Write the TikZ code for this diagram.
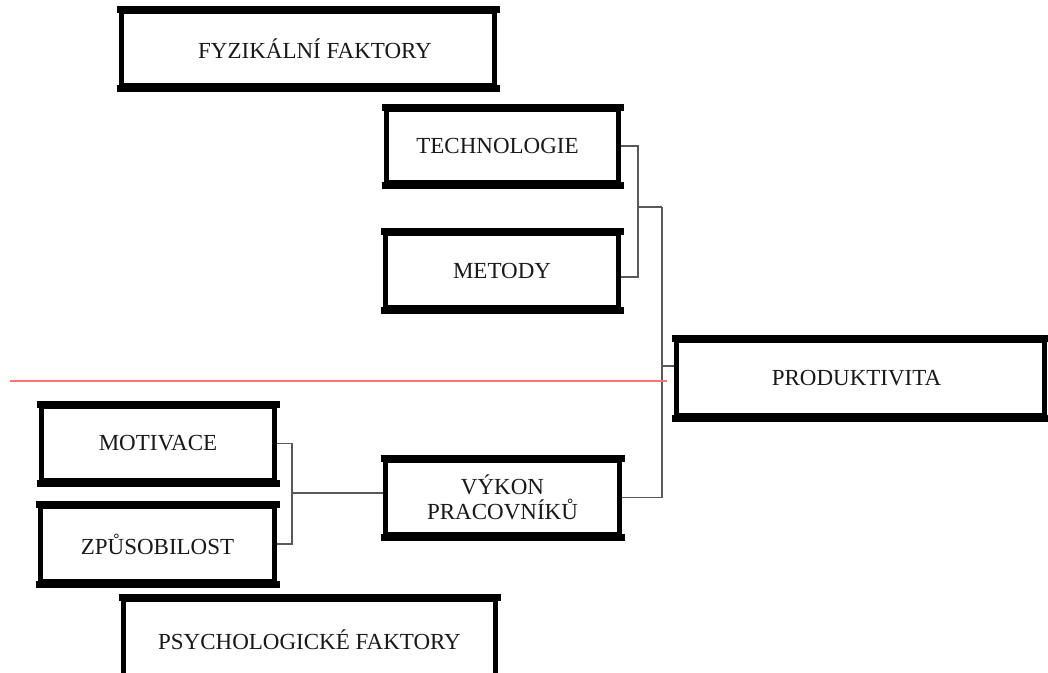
\documentclass[tikz,border=0pt]{standalone}
\usepackage{fontspec}
\setmainfont{Liberation Serif}
\usetikzlibrary{backgrounds}

\tikzset{
  box/.style={draw=black, line width=5pt, inner sep=0pt, align=center,
    text=black!90, font=\fontsize{23}{25}\selectfont},
  boxedge/.style={draw=black, line width=7pt},
  conn/.style={draw=black!65, line width=1.4pt},
  divider/.style={draw=red!55, line width=1.5pt},
}

\begin{document}
\begin{tikzpicture}[x=1pt, y=-1pt]
  \useasboundingbox (0,0) rectangle (1048,672);
  \clip (0,0) rectangle (1048,672);

  % boxes
  \node[box, minimum width=373pt, minimum height=74pt] (fyz) at (308,48.5) {\hspace*{14pt}FYZIKÁLNÍ FAKTORY};
  \node[box, minimum width=232pt, minimum height=73pt] (tech) at (502.5,146) {TECHNOLOGIE\hspace*{10pt}};
  \node[box, minimum width=233pt, minimum height=74pt] (met) at (502,270.5) {METODY};
  \node[box, minimum width=368pt, minimum height=75pt] (prod) at (860.5,378) {PRODUKTIVITA\hspace*{8pt}};
  \node[box, minimum width=233pt, minimum height=74pt] (mot) at (158,443.5) {MOTIVACE};
  \node[box, minimum width=234pt, minimum height=75pt] (zpu) at (157.5,544) {ZPŮSOBILOST};
  \node[box, minimum width=234pt, minimum height=74pt] (vyk) at (502.5,497.5) {VÝKON\\PRACOVNÍKŮ};
  \node[box, minimum width=372pt, minimum height=80pt] (psy) at (309.5,639.5) {PSYCHOLOGICKÉ FAKTORY};

  % heavier top and bottom edges
  \foreach \n in {fyz,tech,met,prod,mot,zpu,vyk,psy} {
    \draw[boxedge] ([xshift=-2.5pt]\n.north west) -- ([xshift=2.5pt]\n.north east);
    \draw[boxedge] ([xshift=-2.5pt]\n.south west) -- ([xshift=2.5pt]\n.south east);
  }

  % junction points of the connector tree
  \coordinate (busA) at (638,207);
  \coordinate (busB) at (662,207);
  \coordinate (tap)  at (662,366);
  \coordinate (busC) at (292,493);

  % dividing line
  \coordinate (divL) at (10,381);
  \coordinate (divR) at (667,381);
  \draw[divider] (divL) -- (divR);

  \begin{scope}[on background layer]
    \fill[white] (0,0) rectangle (1048,672);
    \draw[conn] (tech.east) -| (busA) |- ([yshift=-6.5pt]met.east);
    \draw[conn] (busA) -- (busB);
    \draw[conn] (busB) |- (vyk.east);
    \draw[conn] (tap) -- (tap -| prod.west);
    \draw[conn] (mot.east) -| (busC) |- (zpu.east);
    \draw[conn] (busC) -- (busC -| vyk.west);
  \end{scope}
\end{tikzpicture}
\end{document}
